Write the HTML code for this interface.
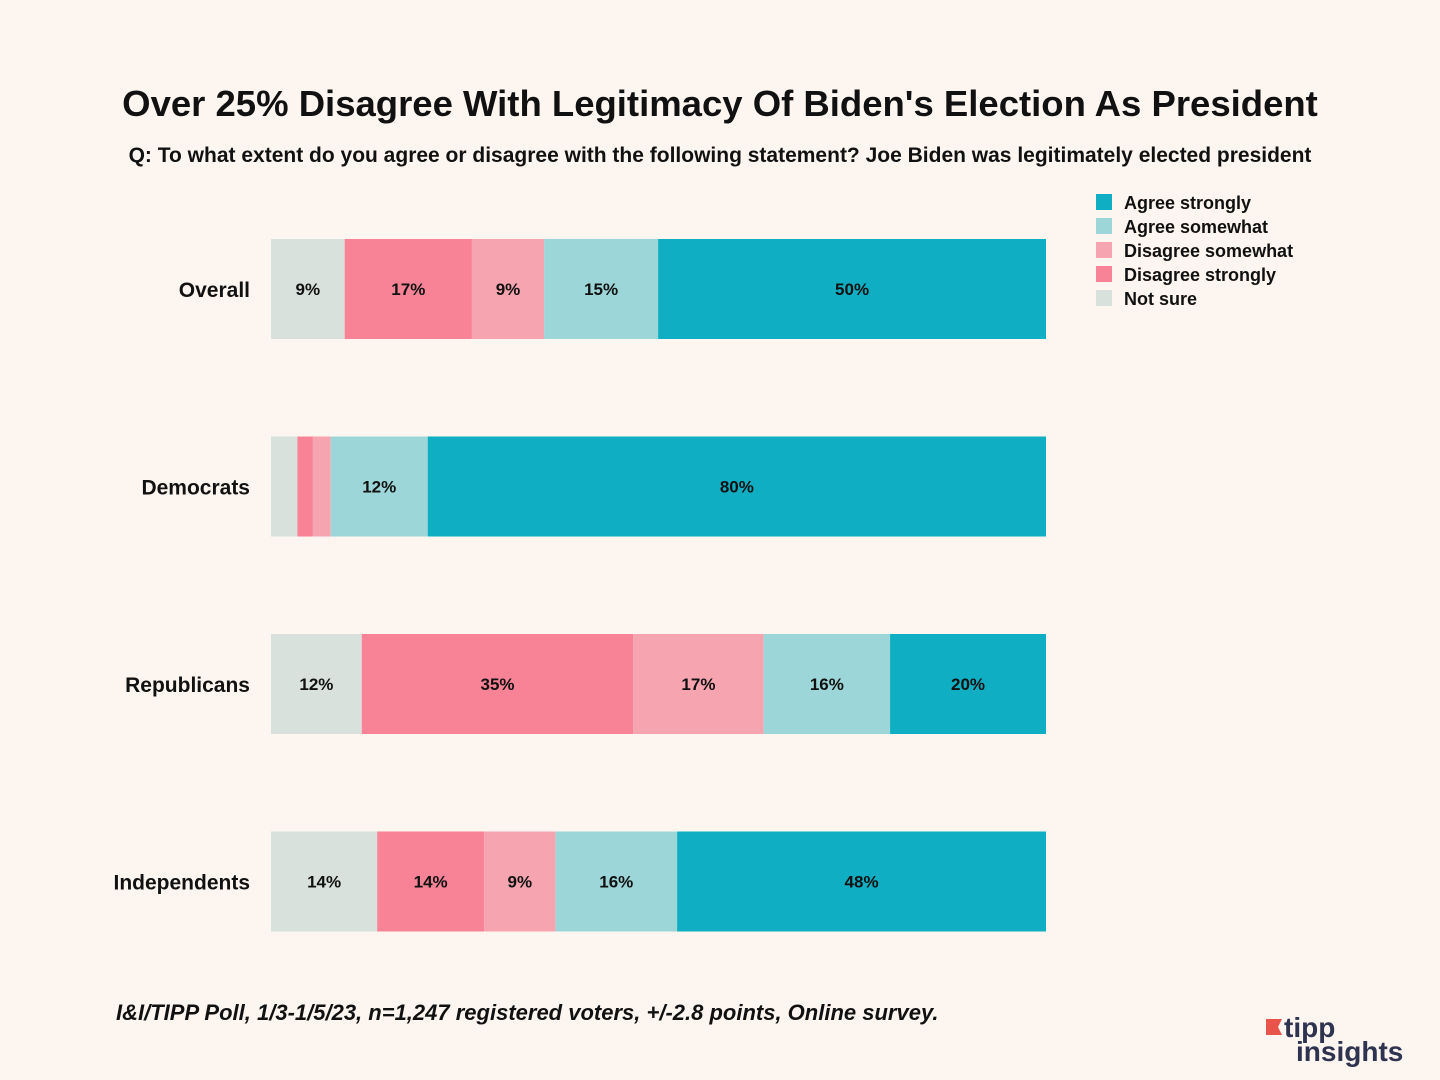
<!DOCTYPE html>
<html><head><meta charset="utf-8"><style>
body{margin:0;background:#fdf6f0;font-family:"Liberation Sans",sans-serif;}
svg{display:block}
</style></head><body>
<svg id="chart" width="1440" height="1080">
<rect width="1440" height="1080" fill="#fdf6f0"/>
<text x="720" y="116" text-anchor="middle" font-size="36.5" font-weight="bold" fill="#111">Over 25% Disagree With Legitimacy Of Biden's Election As President</text>
<text x="720" y="162" text-anchor="middle" font-size="21" font-weight="bold" fill="#111">Q: To what extent do you agree or disagree with the following statement? Joe Biden was legitimately elected president</text>
<text x="116" y="1020" font-size="22" font-style="italic" font-weight="bold" fill="#111">I&amp;I/TIPP Poll, 1/3-1/5/23, n=1,247 registered voters, +/-2.8 points, Online survey.</text>
<g>
<polygon points="1266,1019 1282,1019 1278,1027 1282,1035 1266,1035" fill="#e8534a"/>
<text x="1284" y="1037" font-size="28" font-weight="bold" fill="#2e3350">tipp</text>
<text x="1296" y="1061" font-size="28" font-weight="bold" fill="#2e3350">insights</text>
</g>
<g id="bars"></g>
<g id="legend"></g>
</svg>
<script>
const categories = ["Overall","Democrats","Republicans","Independents"];
const seriesNames = ["Not sure","Disagree strongly","Disagree somewhat","Agree somewhat","Agree strongly"];
const notSure = [9.5, 3.4, 11.7, 13.7];
const disagreeStrongly = [16.4, 2.0, 35, 13.8];
const disagreeSomewhat = [9.3, 2.3, 16.8, 9.2];
const agreeSomewhat = [14.7, 12.5, 16.3, 15.7];
const agreeStrongly = [50, 79.7, 20.1, 47.6];
const labelNotSure = ["9%","","12%","14%"];
const labelDisStrong = ["17%","","35%","14%"];
const labelDisSome = ["9%","","17%","9%"];
const labelAgrSome = ["15%","12%","16%","16%"];
const labelAgrStrong = ["50%","80%","20%","48%"];

const colors = ["#d8e1dc","#f98396","#f6a5b0","#9dd6d8","#10aec2"];
const series = [notSure,disagreeStrongly,disagreeSomewhat,agreeSomewhat,agreeStrongly];
const labels = [labelNotSure,labelDisStrong,labelDisSome,labelAgrSome,labelAgrStrong];
const NS = "http://www.w3.org/2000/svg";
const x0 = 271, plotW = 775, y0 = 239, step = 197.5, barH = 100;
const xScale = (v,total) => v/total*plotW;
const yScale = i => y0 + i*step;
const gb = document.getElementById('bars');
categories.forEach((c,i)=>{
  const total = series.reduce((s,a)=>s+a[i],0);
  const y = yScale(i);
  const t = document.createElementNS(NS,'text');
  t.setAttribute('x',250); t.setAttribute('y',y+barH/2+8);
  t.setAttribute('text-anchor','end'); t.setAttribute('font-size','21'); t.setAttribute('font-weight','bold'); t.setAttribute('fill','#111');
  t.textContent = c;
  
  
  gb.appendChild(t);
  let x = x0;
  series.forEach((arr,k)=>{
    const w = xScale(arr[i],total);
    const r = document.createElementNS(NS,'rect');
    r.setAttribute('x',x); r.setAttribute('y',y); r.setAttribute('width',w); r.setAttribute('height',barH);
    r.setAttribute('fill',colors[k]);
    
    
    gb.appendChild(r);
    if(labels[k][i]){
      const l = document.createElementNS(NS,'text');
      l.setAttribute('x',x+w/2); l.setAttribute('y',y+barH/2+6);
      l.setAttribute('text-anchor','middle'); l.setAttribute('font-size','17'); l.setAttribute('font-weight','bold'); l.setAttribute('fill','#111');
      l.textContent = labels[k][i];
      
      
      gb.appendChild(l);
    }
    x += w;
  });
});
const gl = document.getElementById('legend');
const legendOrder = [4,3,2,1,0];
legendOrder.forEach((k,j)=>{
  const y = 194 + j*24;
  const r = document.createElementNS(NS,'rect');
  r.setAttribute('x',1096); r.setAttribute('y',y); r.setAttribute('width',16); r.setAttribute('height',16);
  r.setAttribute('fill',colors[k]);
  
  
  gl.appendChild(r);
  const t = document.createElementNS(NS,'text');
  t.setAttribute('x',1124); t.setAttribute('y',y+15);
  t.setAttribute('font-size','18'); t.setAttribute('font-weight','bold'); t.setAttribute('fill','#111');
  t.textContent = seriesNames[k];
  
  
  gl.appendChild(t);
});
</script>
</body></html>
